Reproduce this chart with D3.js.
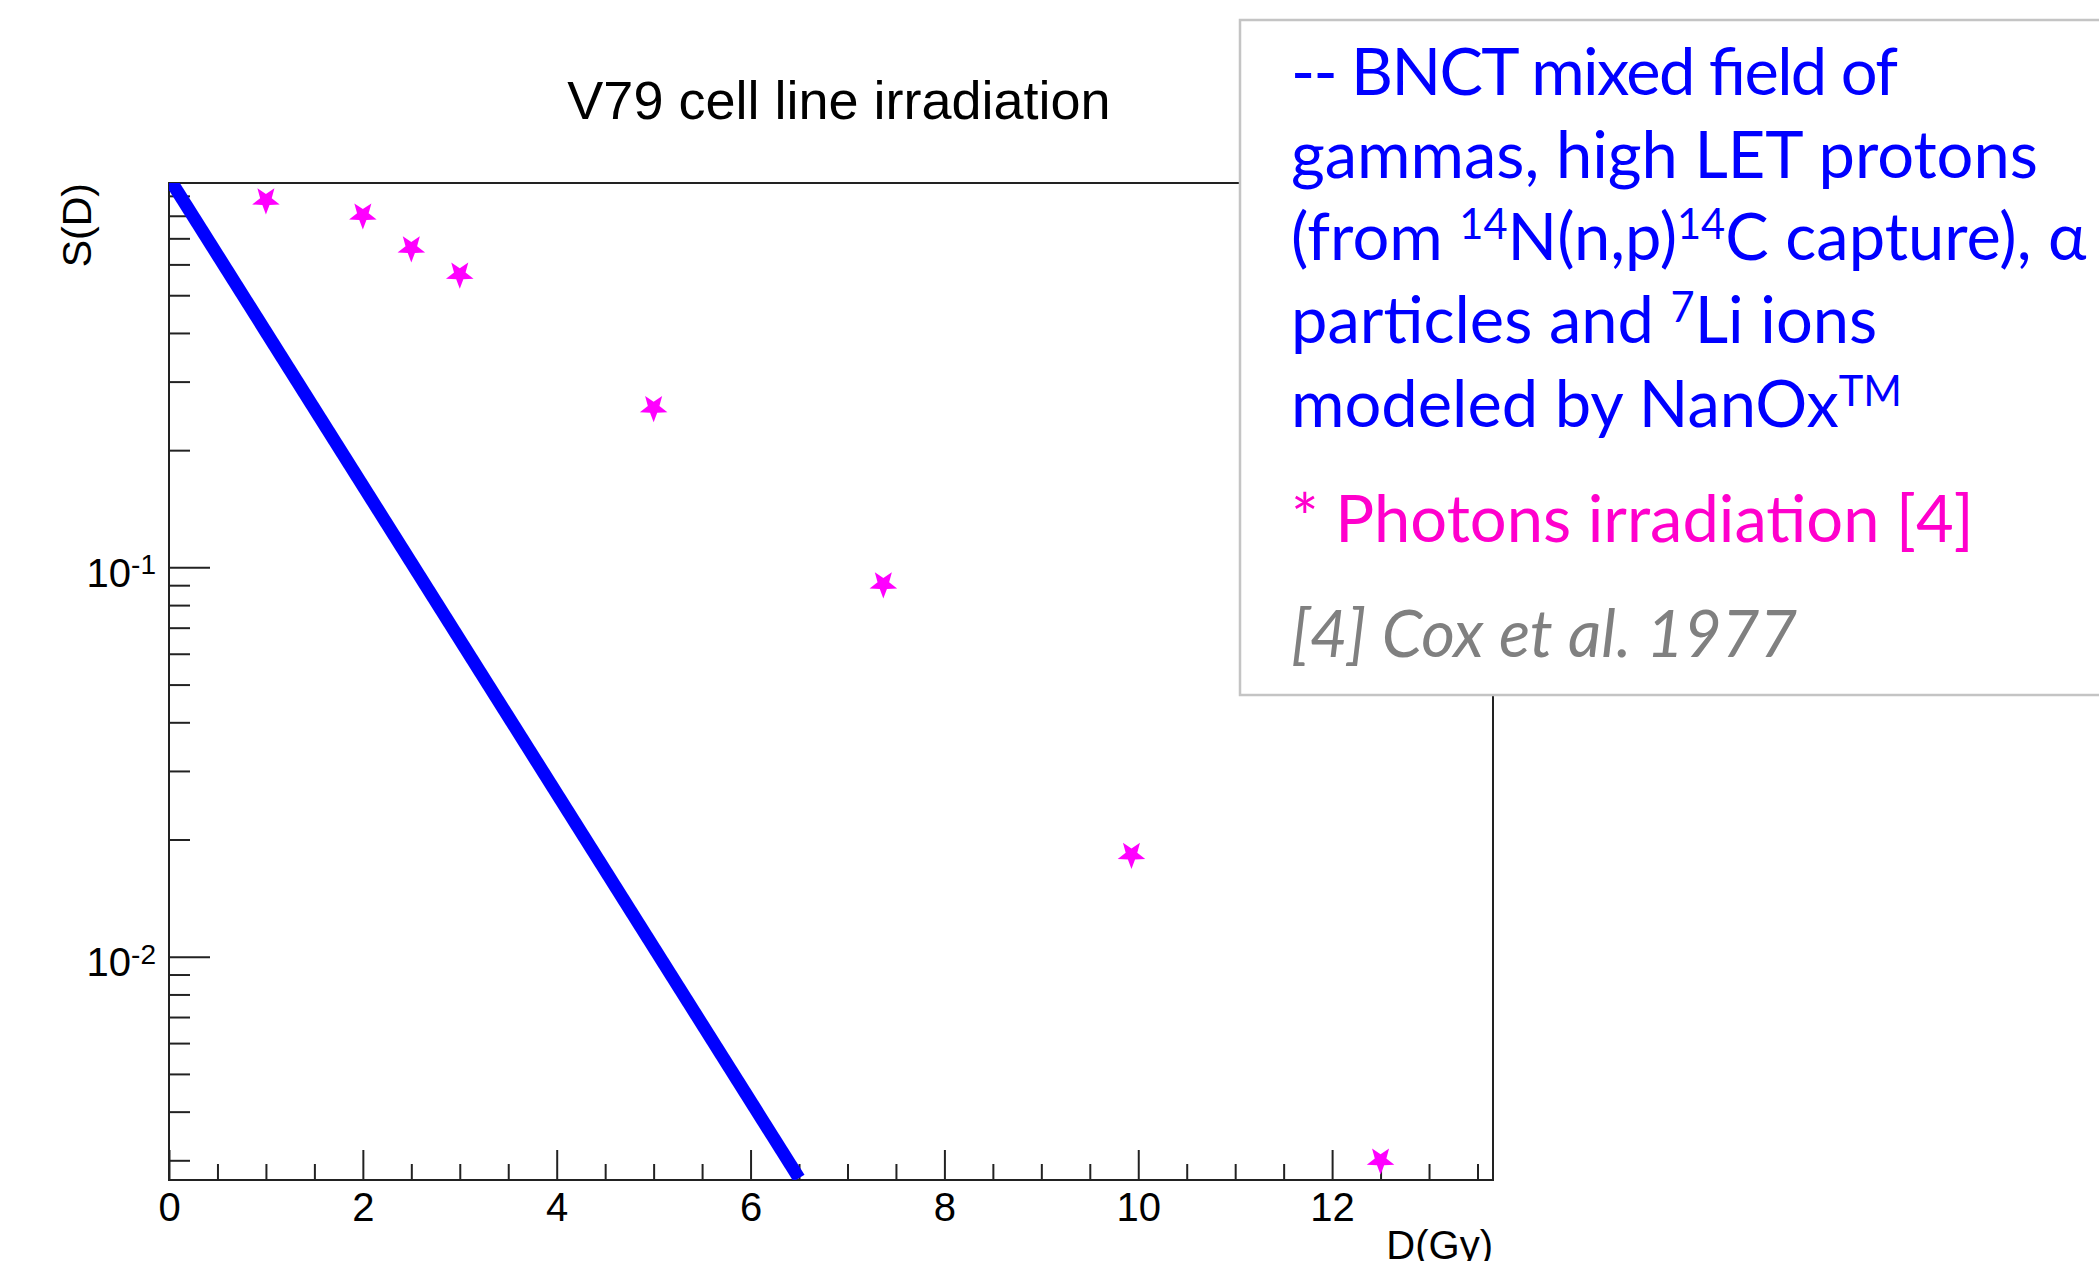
<!DOCTYPE html>
<html>
<head>
<meta charset="utf-8">
<script src="https://cdn.jsdelivr.net/npm/d3@7"></script>
<style>
  body { margin: 0; background: #fff; }
  text { font-family: "Liberation Sans", Arial, sans-serif; }
</style>
</head>
<body>
<svg id="chart" width="2099" height="1261"></svg>
<script>
// photon irradiation points (Cox et al. 1977)
const photonDose = [1, 2, 2.5, 3, 5, 7.37, 9.93, 12.5];
const photonSurv = [0.878, 0.803, 0.661, 0.566, 0.257, 0.0906, 0.0183, 0.0030];

// BNCT mixed field curve (NanOx)
const bnctDose = [0, 6.5];
const bnctSurv = [1, 0.0027];

// axis ticks
const xMajor = [0, 2, 4, 6, 8, 10, 12];
const xMinor = [0.5, 1, 1.5, 2.5, 3, 3.5, 4.5, 5, 5.5, 6.5, 7, 7.5, 8.5, 9, 9.5, 10.5, 11, 11.5, 12.5, 13, 13.5];
const yMajor = [0.01, 0.1];
const yMajorExp = ["-2", "-1"];
const yMinor = [0.003, 0.004, 0.005, 0.006, 0.007, 0.008, 0.009,
                0.02, 0.03, 0.04, 0.05, 0.06, 0.07, 0.08, 0.09,
                0.2, 0.3, 0.4, 0.5, 0.6, 0.7, 0.8, 0.9];

// legend text, one array of segments per line
const legendLines = [
  [{ t: "-- BNCT mixed field of" }],
  [{ t: "gammas, high LET protons" }],
  [{ t: "(from " }, { t: "14", sup: true }, { t: "N(n,p)" }, { t: "14", sup: true }, { t: "C capture), \u03b1" }],
  [{ t: "particles and " }, { t: "7", sup: true }, { t: "Li ions" }],
  [{ t: "modeled by NanOx" }, { t: "TM", sup: true }],
  [{ t: "* Photons irradiation [4]" }],
  [{ t: "[4] Cox et al. 1977" }]
];
const legendColors = ["#0000ff", "#0000ff", "#0000ff", "#0000ff", "#0000ff", "#ff00cc", "#808080"];

const plotLeft = 169, plotRight = 1493, plotTop = 183, plotBottom = 1180;

const svg = d3.select("#chart");

const x = d3.scaleLinear().domain([0, 13.66]).range([plotLeft, plotRight]);
const y = d3.scaleLog().domain([0.00267, 0.971]).range([plotBottom, plotTop]);

svg.append("defs").append("clipPath").attr("id", "plot-clip")
  .append("rect")
  .attr("x", plotLeft).attr("y", plotTop)
  .attr("width", plotRight - plotLeft).attr("height", plotBottom - plotTop);

// title
svg.append("text")
  .attr("x", 839).attr("y", 119)
  .attr("text-anchor", "middle")
  .style("font-size", "54px")
  .text("V79 cell line irradiation");

// x axis
const xAxisMinor = d3.axisBottom(x).tickValues(xMinor).tickSize(-16).tickSizeOuter(0).tickFormat("");
const xAxisMajor = d3.axisBottom(x).tickValues(xMajor).tickSize(-30).tickSizeOuter(0).tickPadding(13);

svg.append("g").attr("transform", `translate(0,${plotBottom})`).call(xAxisMinor);
svg.append("g").attr("class", "x-major").attr("transform", `translate(0,${plotBottom})`).call(xAxisMajor);

// y axis
const yAxisMinor = d3.axisLeft(y).tickValues(yMinor).tickSize(-21).tickSizeOuter(0).tickFormat("");
const yAxisMajor = d3.axisLeft(y).tickValues(yMajor).tickSize(-41).tickSizeOuter(0).tickPadding(13).tickFormat("");

svg.append("g").attr("transform", `translate(${plotLeft},0)`).call(yAxisMinor);
const yg = svg.append("g").attr("class", "y-major").attr("transform", `translate(${plotLeft},0)`).call(yAxisMajor);

yg.selectAll(".tick text")
  .attr("dy", "0.48em")
  .each(function (d, i) {
    const t = d3.select(this);
    t.append("tspan").text("10");
    t.append("tspan").attr("class", "exp").attr("dy", "-0.45em").text(yMajorExp[i]);
  });

svg.selectAll(".domain").remove();
svg.selectAll(".tick line").attr("stroke", "#222").attr("stroke-width", 2);
svg.selectAll(".tick text")
  .attr("fill", "#000")
  .style("font-family", "'Liberation Sans', Arial, sans-serif")
  .style("font-size", "40px");
yg.selectAll(".exp").style("font-size", "28px");

// frame
svg.append("rect")
  .attr("x", plotLeft).attr("y", plotTop)
  .attr("width", plotRight - plotLeft).attr("height", plotBottom - plotTop)
  .attr("fill", "none").attr("stroke", "#222").attr("stroke-width", 2);

// axis titles
svg.append("text")
  .attr("x", plotRight).attr("y", 1259)
  .attr("text-anchor", "end")
  .style("font-size", "40px")
  .text("D(Gy)");

svg.append("text")
  .attr("transform", `translate(91,${plotTop}) rotate(-90)`)
  .attr("text-anchor", "end")
  .style("font-size", "41px")
  .text("S(D)");

// BNCT curve
const line = d3.line().x(d => x(d[0])).y(d => y(d[1]));
svg.append("path")
  .datum(d3.zip(bnctDose, bnctSurv))
  .attr("clip-path", "url(#plot-clip)")
  .attr("d", line)
  .attr("fill", "none")
  .attr("stroke", "#0000ff")
  .attr("stroke-width", 13);

// star marker pointing down
const starDown = {
  draw(context, size) {
    const R = Math.sqrt(size), r = R * 0.42;
    for (let i = 0; i < 10; i++) {
      const a = Math.PI / 2 + i * Math.PI / 5;
      const rad = i % 2 === 0 ? R : r;
      const px = rad * Math.cos(a), py = rad * Math.sin(a);
      if (i === 0) context.moveTo(px, py); else context.lineTo(px, py);
    }
    context.closePath();
  }
};

svg.selectAll(".star")
  .data(d3.zip(photonDose, photonSurv))
  .enter()
  .append("path")
  .attr("class", "star")
  .attr("transform", d => `translate(${x(d[0])},${y(d[1])})`)
  .attr("d", d3.symbol().type(starDown).size(210))
  .attr("fill", "#ff00ff");

// legend box
const legend = svg.append("g").attr("id", "legend");
legend.append("rect")
  .attr("x", 1240).attr("y", 20)
  .attr("width", 1000).attr("height", 675)
  .attr("fill", "#fff")
  .attr("stroke", "#c4c4c4")
  .attr("stroke-width", 2.5);

const baselines = [95, 178, 260, 343, 427, 542, 657];
let fontSize = 64;

const texts = legend.selectAll(".leg")
  .data(legendLines)
  .enter()
  .append("text")
  .attr("class", "leg")
  .attr("x", 1291)
  .attr("y", (d, i) => baselines[i])
  .attr("fill", (d, i) => legendColors[i])
  .style("font-family", "Lato, 'Open Sans', sans-serif")
  .style("font-style", (d, i) => i === 6 ? "italic" : "normal");

texts.each(function (segs) {
  const t = d3.select(this);
  segs.forEach(s => {
    const sp = t.append("tspan").text(s.t);
    if (s.sup) sp.attr("class", "sup").attr("baseline-shift", "0.5em");
  });
});

function applyFont(fs) {
  texts.style("font-size", fs + "px");
  texts.selectAll(".sup").style("font-size", (fs * 0.64) + "px");
}
applyFont(fontSize);
// fit the substitute font to the width of the second line
const w = texts.filter((d, i) => i === 1).node().getComputedTextLength();
fontSize = fontSize * 747 / w;
applyFont(fontSize);
// first line is relatively wider in this font; pull it back to its width
texts.filter((d, i) => i === 0).attr("textLength", 607).attr("lengthAdjust", "spacing");
</script>
</body>
</html>
